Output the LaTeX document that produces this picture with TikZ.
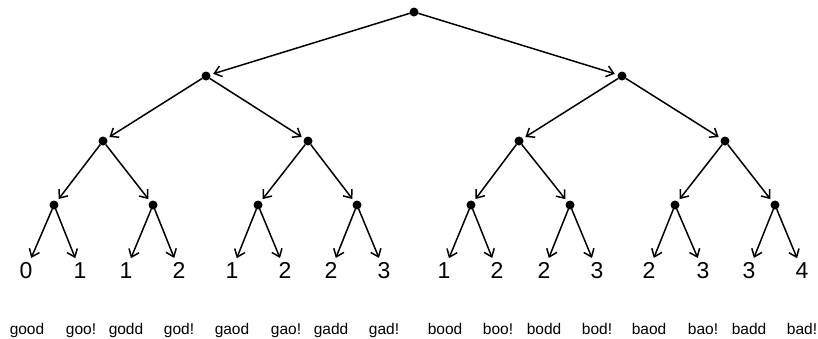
\documentclass[tikz,border=0pt]{standalone}
\usepackage{fontspec}
\setmainfont{Liberation Sans}
\usetikzlibrary{arrows.meta}
\tikzset{
  dot/.style={circle,fill=black,minimum size=9pt,inner sep=0pt,outer sep=0pt},
  edge/.style={line width=1.5pt,-{Straight Barb[length=7pt,width=11pt,line width=1.5pt]},shorten >=3pt},
  leafedge/.style={line width=1.5pt,-{Straight Barb[length=7pt,width=11pt,line width=1.5pt]}},
  num/.style={anchor=base,inner xsep=1pt,inner ysep=4pt,outer sep=0pt,font=\fontsize{23}{23}\selectfont},
  word/.style={anchor=base,inner sep=0pt,font=\fontsize{15.5}{16}\selectfont}
}
\begin{document}
\begin{tikzpicture}[x=1pt,y=-1pt]
\useasboundingbox (0,0) rectangle (818,338);
% internal nodes
\node[dot] (r) at (414,12) {};
\node[dot] (a) at (206,76) {};
\node[dot] (b) at (622,76) {};
\node[dot] (aa) at (103,141) {};
\node[dot] (ab) at (308,141) {};
\node[dot] (ba) at (519,141) {};
\node[dot] (bb) at (725,141) {};
\node[dot] (c1) at (54,205) {};
\node[dot] (c2) at (153,205) {};
\node[dot] (c3) at (258,205) {};
\node[dot] (c4) at (357,205) {};
\node[dot] (c5) at (471,205) {};
\node[dot] (c6) at (570,205) {};
\node[dot] (c7) at (675,205) {};
\node[dot] (c8) at (775,205) {};
% leaf numbers
\node[num] (n1) at (26,278) {0};
\node[num] (n2) at (80,278) {1};
\node[num] (n3) at (126,278) {1};
\node[num] (n4) at (179,278) {2};
\node[num] (n5) at (232,278) {1};
\node[num] (n6) at (285,278) {2};
\node[num] (n7) at (331,278) {2};
\node[num] (n8) at (384,278) {3};
\node[num] (n9) at (444,278) {1};
\node[num] (n10) at (497,278) {2};
\node[num] (n11) at (544,278) {2};
\node[num] (n12) at (597,278) {3};
\node[num] (n13) at (649,278) {2};
\node[num] (n14) at (703,278) {3};
\node[num] (n15) at (749,278) {3};
\node[num] (n16) at (802,278) {4};
% words
\node[word] (w1) at (27,334) {good};
\node[word] (w2) at (81,334) {goo!};
\node[word] (w3) at (126,334) {godd};
\node[word] (w4) at (179,334) {god!};
\node[word] (w5) at (232,334) {gaod};
\node[word] (w6) at (286,334) {gao!};
\node[word] (w7) at (331,334) {gadd};
\node[word] (w8) at (384,334) {gad!};
\node[word] (w9) at (445,334) {bood};
\node[word] (w10) at (498,334) {boo!};
\node[word] (w11) at (544,334) {bodd};
\node[word] (w12) at (597,334) {bod!};
\node[word] (w13) at (649,334) {baod};
\node[word] (w14) at (703,334) {bao!};
\node[word] (w15) at (749,334) {badd};
\node[word] (w16) at (802,334) {bad!};
% edges
\draw[edge] (r) -- (a);
\draw[edge] (r) -- (b);
\draw[edge] (a) -- (aa);
\draw[edge] (a) -- (ab);
\draw[edge] (b) -- (ba);
\draw[edge] (b) -- (bb);
\draw[edge] (aa) -- (c1);
\draw[edge] (aa) -- (c2);
\draw[edge] (ab) -- (c3);
\draw[edge] (ab) -- (c4);
\draw[edge] (ba) -- (c5);
\draw[edge] (ba) -- (c6);
\draw[edge] (bb) -- (c7);
\draw[edge] (bb) -- (c8);
\draw[leafedge] (c1) -- (n1);
\draw[leafedge] (c1) -- (n2);
\draw[leafedge] (c2) -- (n3);
\draw[leafedge] (c2) -- (n4);
\draw[leafedge] (c3) -- (n5);
\draw[leafedge] (c3) -- (n6);
\draw[leafedge] (c4) -- (n7);
\draw[leafedge] (c4) -- (n8);
\draw[leafedge] (c5) -- (n9);
\draw[leafedge] (c5) -- (n10);
\draw[leafedge] (c6) -- (n11);
\draw[leafedge] (c6) -- (n12);
\draw[leafedge] (c7) -- (n13);
\draw[leafedge] (c7) -- (n14);
\draw[leafedge] (c8) -- (n15);
\draw[leafedge] (c8) -- (n16);
\end{tikzpicture}
\end{document}
